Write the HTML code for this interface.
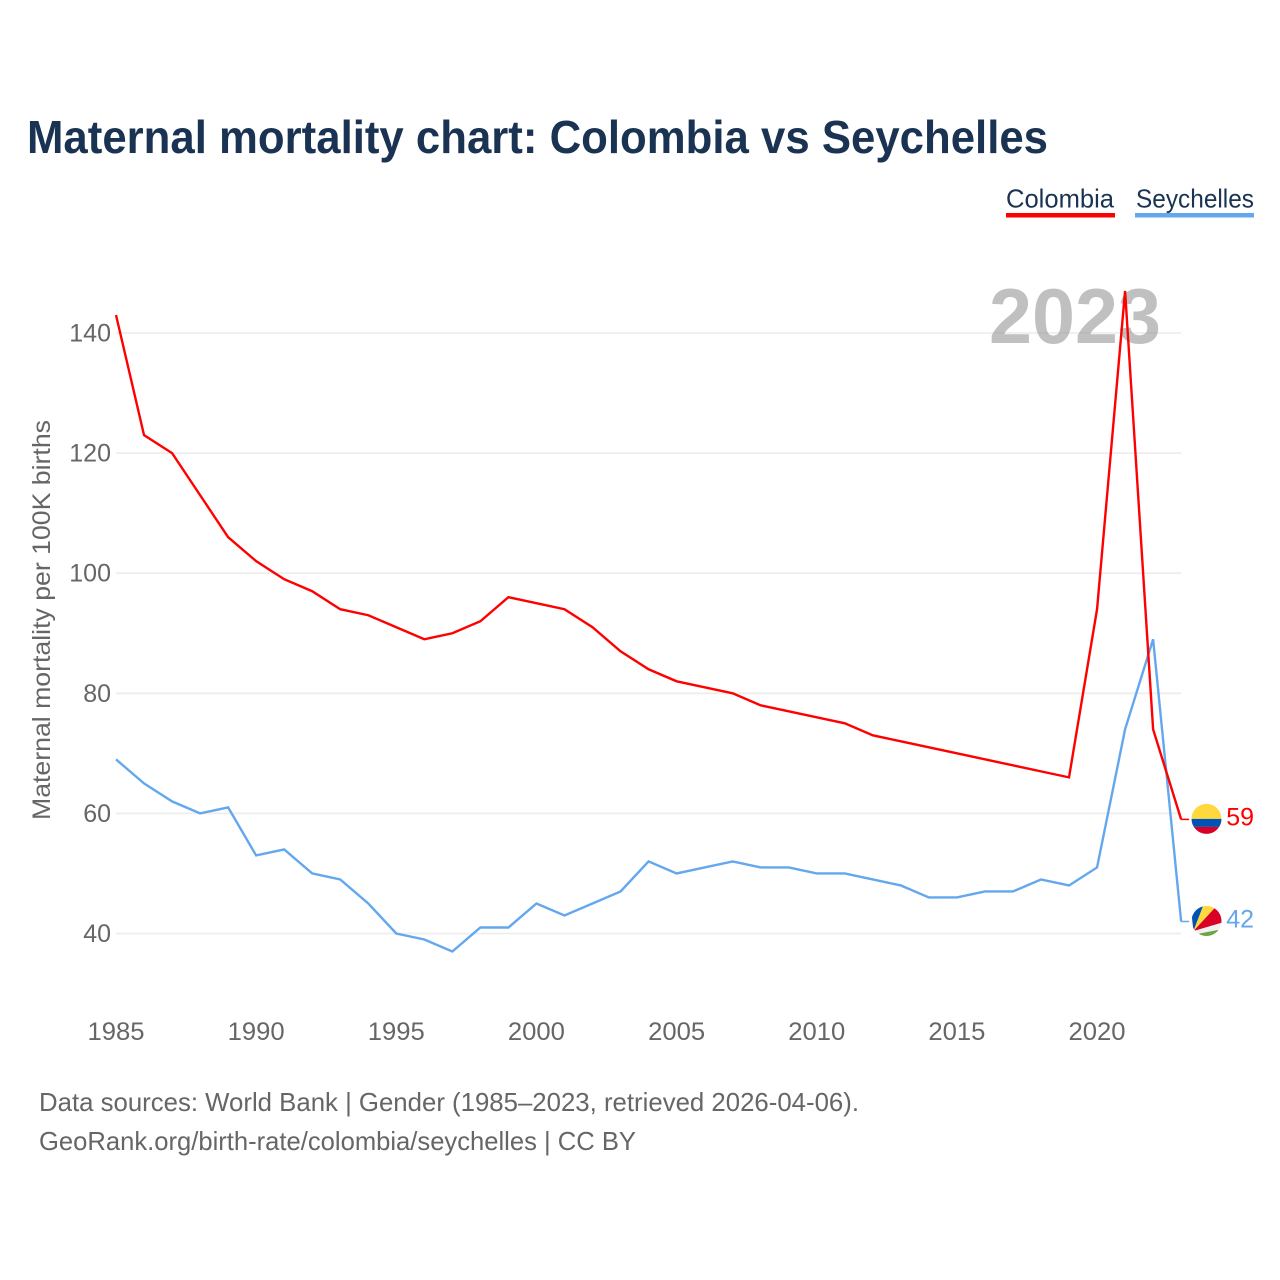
<!DOCTYPE html>
<html lang="en">
<head>
<meta charset="utf-8">
<title>Maternal mortality chart: Colombia vs Seychelles</title>
<style>
html,body{margin:0;padding:0;background:#fff;}
#chart{display:block;width:1280px;height:1280px;font-family:"Liberation Sans",sans-serif;}
</style>
</head>
<body>
<svg id="chart" xmlns="http://www.w3.org/2000/svg" width="1280" height="1280" viewBox="0 0 1280 1280">
  <rect x="0" y="0" width="1280" height="1280" fill="#ffffff"/>
  <text x="27" y="153" font-size="46" font-weight="700" fill="#1a3353" textLength="1021" lengthAdjust="spacingAndGlyphs">Maternal mortality chart: Colombia vs Seychelles</text>

  <g>
    <g>
      <text x="1006" y="207.5" font-size="26" fill="#1a3353" textLength="108" lengthAdjust="spacingAndGlyphs">Colombia</text>
      <rect x="1006" y="213" width="109" height="4.5" fill="#ff0000"/>
    </g>
    <g>
      <text x="1136" y="207.5" font-size="26" fill="#1a3353" textLength="118" lengthAdjust="spacingAndGlyphs">Seychelles</text>
      <rect x="1135" y="213" width="119" height="4.5" fill="#63a7ee"/>
    </g>
  </g>

  <text transform="translate(50,820) rotate(-90)" font-size="25" fill="#666666" textLength="400" lengthAdjust="spacingAndGlyphs">Maternal mortality per 100K births</text>

  <g id="grid"></g>
  <g id="yticks"></g>
  <g id="xticks"></g>

  <text x="989" y="343" font-size="78" font-weight="700" fill="#999999" fill-opacity="0.62" textLength="172" lengthAdjust="spacingAndGlyphs">2023</text>

  <g id="series"></g>

  <defs>
    <clipPath id="flag-clip"><circle cx="0" cy="0" r="15"/></clipPath>
  </defs>

  <g id="flag-colombia">
    <g clip-path="url(#flag-clip)">
      <rect x="-16" y="-16" width="32" height="16" fill="#ffd83d"/>
      <rect x="-16" y="0" width="32" height="8" fill="#0052b4"/>
      <rect x="-16" y="8" width="32" height="8" fill="#d80027"/>
    </g>
  </g>
  <g id="flag-seychelles">
    <g clip-path="url(#flag-clip)">
      <rect x="-16" y="-16" width="32" height="32" fill="#f0f0f0"/>
      <polygon points="-13,10 -16,-16 -3,-16" fill="#0052b4"/>
      <polygon points="-13,10 -3,-16 11,-16" fill="#ffd83d"/>
      <polygon points="-13,10 11,-16 16,-10 16,1.5" fill="#d80027"/>
      <polygon points="-10,16 -7,12.5 14,8.5 16,16" fill="#6da544"/>
    </g>
  </g>

  <text x="39" y="1111" font-size="26" fill="#666666" textLength="820" lengthAdjust="spacingAndGlyphs">Data sources: World Bank | Gender (1985–2023, retrieved 2026-04-06).</text>
  <text x="39" y="1150" font-size="26" fill="#666666" textLength="597" lengthAdjust="spacingAndGlyphs">GeoRank.org/birth-rate/colombia/seychelles | CC BY</text>
</svg>

<script>
const years = [1985,1986,1987,1988,1989,1990,1991,1992,1993,1994,1995,1996,1997,1998,1999,2000,2001,2002,2003,2004,2005,2006,2007,2008,2009,2010,2011,2012,2013,2014,2015,2016,2017,2018,2019,2020,2021,2022,2023];
const colombiaValues = [143,123,120,113,106,102,99,97,94,93,91,89,90,92,96,95,94,91,87,84,82,81,80,78,77,76,75,73,72,71,70,69,68,67,66,94,147,74,59];
const seychellesValues = [69,65,62,60,61,53,54,50,49,45,40,39,37,41,41,45,43,45,47,52,50,51,52,51,51,50,50,49,48,46,46,47,47,49,48,51,74,89,42];
const yTickValues = [40,60,80,100,120,140];
const xTickValues = [1985,1990,1995,2000,2005,2010,2015,2020];

const SVG_NS = 'http://www.w3.org/2000/svg';
const xScale = function (year) { return 116 + (year - 1985) * 28.03; };
const yScale = function (value) { return 933.5 - (value - 40) * 6.005; };
const plotRight = xScale(2023);

function make(tag, parent) {
  const el = document.createElementNS(SVG_NS, tag);
  parent.appendChild(el);
  return el;
}

const gridGroup = document.getElementById('grid');
const yTickGroup = document.getElementById('yticks');
yTickValues.forEach(function (value) {
  const line = make('line', gridGroup);
  
  
  line.setAttribute('x1', xScale(1985));
  line.setAttribute('x2', plotRight);
  line.setAttribute('y1', yScale(value));
  line.setAttribute('y2', yScale(value));
  line.setAttribute('stroke', '#eeeeee');
  line.setAttribute('stroke-width', '1.8');

  const label = make('text', yTickGroup);
  
  
  label.setAttribute('x', 111);
  label.setAttribute('y', yScale(value) + 8.5);
  label.setAttribute('text-anchor', 'end');
  label.setAttribute('font-size', '25');
  label.setAttribute('fill', '#666666');
  label.textContent = String(value);
});

const xTickGroup = document.getElementById('xticks');
xTickValues.forEach(function (year) {
  const label = make('text', xTickGroup);
  
  
  label.setAttribute('x', xScale(year));
  label.setAttribute('y', 1040);
  label.setAttribute('text-anchor', 'middle');
  label.setAttribute('font-size', '25');
  label.setAttribute('fill', '#666666');
  label.setAttribute('textLength', '57');
  label.setAttribute('lengthAdjust', 'spacingAndGlyphs');
  label.textContent = String(year);
});

const seriesGroup = document.getElementById('series');

function drawSeries(values, color, suffix) {
  const points = values.map(function (value, i) {
    return xScale(years[i]).toFixed(2) + ',' + yScale(value).toFixed(2);
  });
  const lastValue = values[values.length - 1];
  const lastY = yScale(lastValue);

  const path = make('polyline', seriesGroup);
  
  
  path.setAttribute('points', points.join(' '));
  path.setAttribute('fill', 'none');
  path.setAttribute('stroke', color);
  path.setAttribute('stroke-width', '2.4');
  path.setAttribute('stroke-linejoin', 'miter');

  const connector = make('line', seriesGroup);
  
  
  connector.setAttribute('x1', plotRight);
  connector.setAttribute('x2', plotRight + 8);
  connector.setAttribute('y1', lastY);
  connector.setAttribute('y2', lastY);
  connector.setAttribute('stroke', color);
  connector.setAttribute('stroke-width', '1.5');

  const endLabel = make('text', seriesGroup);
  
  
  endLabel.setAttribute('x', 1254);
  endLabel.setAttribute('y', lastY + 6);
  endLabel.setAttribute('text-anchor', 'end');
  endLabel.setAttribute('font-size', '25');
  endLabel.setAttribute('fill', color);
  endLabel.textContent = String(lastValue);

  const flag = document.getElementById('flag-' + suffix);
  flag.setAttribute('transform', 'translate(1206.5,' + (lastY - 0.5) + ')');
}

drawSeries(seychellesValues, '#63a7ee', 'seychelles');
drawSeries(colombiaValues, '#ff0000', 'colombia');
</script>
</body>
</html>
